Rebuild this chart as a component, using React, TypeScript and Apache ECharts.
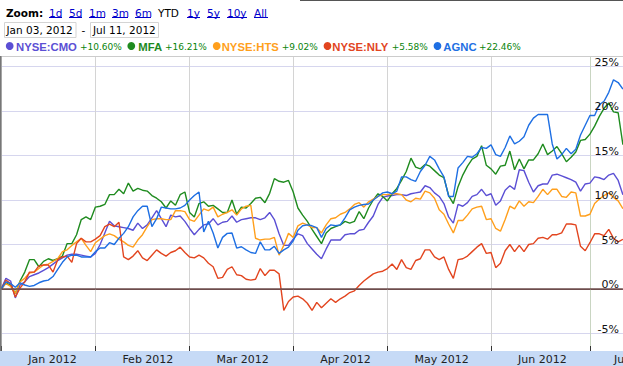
import { useEffect, useRef } from 'react';
import * as echarts from 'echarts';

// ---------- data ----------
const START_DATE = '2012-01-03';
const END_DATE = '2012-07-12';
const HOLIDAYS = ['2012-01-16', '2012-02-20', '2012-04-06', '2012-05-28', '2012-07-04'];
const MONTHS = ['Jan', 'Feb', 'Mar', 'Apr', 'May', 'Jun', 'Jul', 'Aug', 'Sep', 'Oct', 'Nov', 'Dec'];
const RANGE_LABELS = ['Jan 03, 2012', 'Jul 11, 2012'];
const ZOOM_LINKS = ['1d', '5d', '1m', '3m', '6m', 'YTD', '1y', '5y', '10y', 'All'];
const ACTIVE_ZOOM = 'YTD';
const Y_MIN = -5;
const Y_MAX = 25;
const Y_STEP = 5;

const NAMES = ['NYSE:CMO', 'MFA', 'NYSE:HTS', 'NYSE:NLY', 'AGNC'];
const COLORS = ['#5b4fd4', '#1f8b1f', '#ff9f1c', '#e2451f', '#1e6fe3'];

// percent change since Jan 03, 2012, one value per trading day
const CMO = [
  0, 1.2, 0.9, -1.0, 0.45, 0.8, 1.4, 1.6, 1.8, 2.1, 2.4, 2.8, 3.2, 3.5, 3.8, 3.9, 3.9, 3.8, 3.7, 3.6,
  4.0, 5.0, 6.3, 7.6, 7.1, 7.0, 6.9, 6.8, 6.6, 7.4, 6.8, 7.2, 8.0, 8.8, 7.9, 7.0, 8.3, 8.1, 8.2, 7.6,
  6.8, 6.1, 6.7, 7.2, 7.3, 7.9, 7.2, 7.5, 7.6, 8.2, 7.5, 7.8, 7.9, 8.0, 8.0, 7.8, 8.0, 8.6, 7.8, 6.2,
  4.9, 4.9, 5.6, 6.2, 6.0, 5.1, 4.5, 3.9, 3.4, 4.5, 5.5, 5.5, 5.5, 6.1, 6.2, 6.2, 6.6, 6.7, 7.5, 8.2,
  9.5, 10.3, 10.45, 10.5, 10.6, 10.6, 10.5, 10.7, 10.8, 10.9, 11.6, 11.4, 10.8, 10.4, 9.6, 8.1, 7.4, 9.5, 9.3, 9.7,
  10.4, 10.6, 11.2, 10.5, 10.7, 9.4, 9.9, 11.1, 11.6, 11.2, 13.4, 13.3, 12.0, 10.9, 11.6, 11.8, 11.8, 12.8, 12.9, 12.7,
  12.5, 12.3, 12.0, 11.0, 11.8, 11.9, 12.6, 12.5, 12.3, 12.8, 13.0, 12.2, 10.6,
];
const MFA = [
  0, 0.7, 0.4, -0.5, 0.9, 1.9, 3.3, 3.3, 2.5, 3.1, 3.4, 3.2, 3.4, 3.7, 5.1, 5.1, 6.1, 7.8, 8.1, 7.8,
  9.2, 9.3, 9.5, 10.6, 10.6, 11.2, 10.7, 11.9, 11.0, 11.3, 11.1, 11.0, 10.5, 10.2, 9.8, 9.1, 9.9, 9.4, 10.6, 10.9,
  8.6, 8.1, 9.6, 9.8, 9.3, 9.4, 9.0, 8.6, 8.6, 10.0, 8.4, 9.2, 9.1, 9.6, 10.2, 10.3, 9.7, 10.75, 12.4, 12.1,
  12.0, 12.2, 10.9, 9.1, 8.3, 7.6, 6.7, 5.9, 5.1, 6.3, 6.8, 7.0, 7.2, 7.6, 7.4, 7.6, 8.7, 7.9, 9.1, 10.0,
  10.7, 10.4, 9.9, 10.7, 11.3, 12.2, 13.2, 14.7, 13.7, 13.5, 14.0, 13.8, 13.3, 12.8, 12.5, 10.5, 9.6, 11.5, 12.8, 13.8,
  14.6, 14.9, 16.1, 13.9, 13.5, 12.9, 13.8, 13.9, 15.5, 13.4, 14.6, 13.5, 14.5, 14.5, 15.2, 16.3, 15.1, 15.5, 16.0, 15.2,
  14.3, 14.8, 15.4, 16.7, 16.8, 17.4, 18.3, 19.4, 20.3, 20.9, 19.9, 19.8, 16.21,
];
const HTS = [
  0, 0.6, 0.3, -0.5, 0.8, 1.2, 1.8, 1.9, 2.3, 2.7, 2.8, 3.1, 3.4, 4.2, 4.4, 4.9, 5.3, 5.7, 4.9, 4.2,
  5.2, 5.6, 6.0, 6.2, 6.0, 5.6, 5.3, 4.9, 4.7, 5.5, 6.1, 7.0, 7.8, 7.9, 7.9, 7.8, 7.8, 8.8, 8.8, 8.7,
  7.8, 7.6, 8.3, 9.0, 8.8, 9.2, 8.1, 8.4, 8.6, 8.9, 8.3, 9.0, 9.3, 9.4, 5.7, 5.5, 5.6, 5.6, 5.8, 3.8,
  4.9, 6.25, 5.8, 7.1, 7.4, 7.2, 6.9, 6.9, 6.3, 7.2, 7.9, 8.0, 8.4, 8.6, 9.0, 9.5, 9.7, 9.2, 9.8, 10.1,
  10.4, 10.6, 10.6, 10.7, 10.7, 10.6, 10.0, 9.8, 10.2, 10.1, 11.0, 10.8, 10.2, 8.9, 8.4, 7.3, 6.3, 7.7, 7.7, 8.3,
  9.0, 9.2, 9.3, 7.8, 7.9, 6.8, 6.5, 7.8, 9.3, 9.0, 9.9, 9.3, 9.8, 9.7, 10.4, 11.2, 10.6, 11.2, 11.2, 10.4,
  10.3, 10.9, 10.8, 8.2, 8.2, 8.4, 9.6, 10.1, 10.5, 10.8, 10.3, 9.9, 9.02,
];
const NLY = [
  0, 1.0, 0.6, -0.9, 0.1, 0.8, 1.9, 1.9, 2.6, 2.7, 2.7, 1.9, 3.3, 3.6, 3.7, 3.0, 5.1, 5.7, 5.3, 5.3,
  5.6, 6.0, 7.0, 7.3, 7.0, 7.5, 3.6, 3.3, 3.7, 4.3, 3.5, 3.2, 3.8, 4.4, 4.0, 3.7, 4.1, 4.3, 4.7, 4.1,
  3.6, 3.5, 3.8, 3.5, 2.9, 2.5, 1.2, 1.3, 2.2, 2.5, 1.6, 1.5, 1.1, 1.0, 1.1, 2.3, 1.5, 2.1, 2.1, 1.7,
  -2.4, -1.4, -0.9, -0.8, -1.1, -1.6, -2.4, -1.5, -2.1, -1.6, -1.1, -1.5, -1.1, -0.8, -0.4, -0.2, 0.4, 0.9, 1.3, 1.7,
  1.9, 2.0, 2.3, 2.8, 2.2, 3.3, 2.4, 2.2, 3.2, 3.4, 4.4, 4.4, 3.6, 3.3, 3.6, 2.2, 1.2, 3.3, 3.4, 3.7,
  4.2, 4.7, 5.1, 4.0, 4.1, 2.4, 2.9, 4.3, 5.0, 4.2, 4.9, 4.2, 5.0, 5.1, 5.7, 5.8, 5.6, 6.1, 6.1, 6.3,
  7.3, 7.3, 7.2, 4.8, 4.3, 5.2, 6.2, 6.2, 6.0, 6.7, 5.7, 5.3, 5.58,
];
const AGNC = [
  0, 0.8, 0.6, 0.2, 0.7, 0.45, 0.3, 0.4, 0.7, 0.9, 1.0, 1.4, 2.2, 3.0, 3.6, 3.8, 3.8, 3.6, 3.6, 3.6,
  4.2, 4.6, 4.6, 5.2, 5.0, 5.7, 6.25, 7.0, 8.1, 8.8, 9.3, 9.3, 7.0, 7.9, 9.2, 9.1, 9.0, 9.0, 9.1, 9.4,
  10.0, 10.5, 10.9, 6.4, 7.6, 6.3, 4.6, 5.8, 6.25, 6.3, 4.6, 4.75, 4.4, 4.1, 4.0, 5.3, 4.4, 4.4, 4.8, 4.0,
  4.4, 4.7, 5.4, 6.6, 7.1, 7.2, 7.1, 6.9, 5.8, 6.8, 7.2, 7.1, 7.2, 8.0, 8.9, 9.2, 9.4, 9.5, 9.55, 10.0,
  10.4, 10.8, 10.9, 10.7, 11.0, 12.6, 12.6, 12.3, 12.1, 13.2, 13.9, 14.9, 14.5, 13.5, 12.6, 10.4, 10.4, 13.6, 14.2, 14.9,
  14.8, 15.2, 15.9, 15.8, 16.2, 15.1, 14.9, 15.9, 17.2, 16.3, 16.6, 17.1, 18.4, 19.2, 19.6, 19.6, 19.6, 16.3, 14.6, 15.1,
  15.8, 15.2, 15.7, 17.3, 18.4, 19.5, 19.5, 20.7, 21.1, 22.1, 23.5, 23.2, 22.46,
];
const SERIES_VALUES = [CMO, MFA, HTS, NLY, AGNC];

// ---------- categories (trading days) ----------
function tradingDays(): string[] {
  const out: string[] = [];
  const d = new Date(START_DATE + 'T00:00:00Z');
  const end = new Date(END_DATE + 'T00:00:00Z').getTime();
  while (d.getTime() <= end) {
    const wd = d.getUTCDay();
    const s = d.toISOString().slice(0, 10);
    if (wd !== 0 && wd !== 6 && !HOLIDAYS.includes(s)) out.push(s);
    d.setUTCDate(d.getUTCDate() + 1);
  }
  return out;
}
const DATES = tradingDays();
const MONTH_STARTS = DATES.map((d, i) => (i === 0 || d.slice(5, 7) !== DATES[i - 1].slice(5, 7) ? i : -1)).filter((i) => i >= 0);
const START_SET = new Set(MONTH_STARTS);
const LAST_START_DATE = DATES[MONTH_STARTS[MONTH_STARTS.length - 1]];

const pct = (v: number) => (v >= 0 ? '+' : '') + v.toFixed(2) + '%';

function buildOption(): any {
  const isStart = (i: number) => START_SET.has(i);
  const ySplitColors: string[] = [];
  for (let v = Y_MIN; v <= Y_MAX; v += Y_STEP) ySplitColors.push(v === 0 ? '#6e4c4c' : '#d6d6ee');
  const xSplitColors = MONTH_STARTS.map((_, k) => (k === MONTH_STARTS.length - 1 ? '#c9d5c2' : '#d4d4d4'));

  const g: any[] = [];
  // axis band
  g.push({ type: 'rect', z: -1, silent: true, shape: { x: 0, y: 351, width: 623, height: 15 }, style: { fill: '#c6daf6' } });
  // frame lines
  g.push({ type: 'line', z: 10, silent: true, shape: { x1: 0, y1: 56.5, x2: 623, y2: 56.5 }, style: { stroke: '#cccccc', lineWidth: 1 } });
  g.push({ type: 'line', z: 10, silent: true, shape: { x1: 0.75, y1: 56, x2: 0.75, y2: 351 }, style: { stroke: '#777777', lineWidth: 1.5 } });
  g.push({ type: 'line', z: 10, silent: true, shape: { x1: 300, y1: 0.5, x2: 623, y2: 0.5 }, style: { stroke: '#555555', lineWidth: 1 } });

  // zoom toolbar
  g.push({ type: 'text', x: 6, y: 13, style: { text: 'Zoom:', fontFamily: 'DejaVu Sans', fontWeight: 'bold', fontSize: 10.5, fill: '#000', verticalAlign: 'middle' } });
  const zx = [49, 69, 89, 112, 135, 158, 187, 207, 227, 254];
  const zw = [13, 13, 16, 16, 16, 21, 13, 13, 20, 14];
  ZOOM_LINKS.forEach((t, k) => {
    const link = t !== ACTIVE_ZOOM;
    g.push({ type: 'text', x: zx[k], y: 13, style: { text: t, fontFamily: 'DejaVu Sans', fontSize: 10.5, fill: link ? '#0000cc' : '#000', verticalAlign: 'middle' } });
    if (link) g.push({ type: 'line', silent: true, shape: { x1: zx[k], y1: 17.5, x2: zx[k] + zw[k], y2: 17.5 }, style: { stroke: '#0000cc', lineWidth: 1 } });
  });

  // date range boxes
  g.push({ type: 'rect', shape: { x: 4.5, y: 22.5, width: 71.5, height: 15 }, style: { fill: '#fff', stroke: '#d4d4d4', lineWidth: 1 } });
  g.push({ type: 'text', x: 6.5, y: 30, style: { text: RANGE_LABELS[0], fontFamily: 'DejaVu Sans', fontSize: 10.5, fill: '#000', verticalAlign: 'middle' } });
  g.push({ type: 'text', x: 81.5, y: 29.5, style: { text: '-', fontFamily: 'DejaVu Sans', fontSize: 10.5, fill: '#000', verticalAlign: 'middle' } });
  g.push({ type: 'rect', shape: { x: 90.5, y: 22.5, width: 68, height: 15 }, style: { fill: '#fff', stroke: '#d4d4d4', lineWidth: 1 } });
  g.push({ type: 'text', x: 93, y: 30, style: { text: RANGE_LABELS[1], fontFamily: 'DejaVu Sans', fontSize: 10.5, fill: '#000', verticalAlign: 'middle' } });

  // legend
  const cx = [9.7, 131.3, 216.7, 327.5, 437.5];
  const lx = [16, 138.3, 221.7, 332.3, 443.3];
  const px = [80, 165, 281.7, 391.7, 479];
  NAMES.forEach((n, k) => {
    const vals = SERIES_VALUES[k];
    g.push({ type: 'circle', shape: { cx: cx[k], cy: 46, r: 3.9 }, style: { fill: COLORS[k] } });
    g.push({ type: 'text', x: lx[k], y: 46.5, style: { text: n, fontFamily: 'Liberation Sans', fontWeight: 'bold', fontSize: 11.3, fill: COLORS[k], verticalAlign: 'middle' } });
    g.push({ type: 'text', x: px[k], y: 47, style: { text: pct(vals[vals.length - 1]), fontFamily: 'DejaVu Sans', fontSize: 9, fill: '#0a840a', verticalAlign: 'middle' } });
  });

  const labelStyle = { fontFamily: 'DejaVu Sans', fontSize: 11, color: '#222', lineHeight: 12 };

  return {
    animation: false,
    backgroundColor: '#ffffff',
    textStyle: { fontFamily: 'DejaVu Sans' },
    grid: [
      { left: 1.2, right: 0.1, top: 66.5, bottom: 32.5, containLabel: false, outerBoundsMode: 'none' },
      { left: 1.2, right: 0.1, top: 56, bottom: 15, containLabel: false, outerBoundsMode: 'none' },
    ],
    xAxis: [
      { type: 'category', gridIndex: 0, data: DATES, boundaryGap: false, show: false },
      {
        type: 'category', gridIndex: 1, data: DATES, boundaryGap: false,
        axisLine: { show: false },
        axisTick: { show: true, inside: true, length: 5, interval: isStart, lineStyle: { color: '#333', width: 1 } },
        splitLine: { show: true, interval: isStart, lineStyle: { color: xSplitColors, width: 1 } },
        axisLabel: {
          show: true, interval: isStart, align: 'left', margin: 2, hideOverlap: false,
          formatter: (value: string) => {
            const label = MONTHS[Number(value.slice(5, 7)) - 1] + ' ' + value.slice(0, 4);
            return value === LAST_START_DATE ? `{e|${label}}` : `{m|${label}}`;
          },
          rich: {
            m: { ...labelStyle, padding: [0, 0, 0, 27] },
            e: { ...labelStyle, padding: [0, 0, 0, 24] },
          },
        },
      },
    ],
    yAxis: [
      {
        type: 'value', gridIndex: 0, min: Y_MIN, max: Y_MAX, interval: Y_STEP, position: 'right',
        axisLine: { show: false }, axisTick: { show: false }, axisLabel: { show: false },
        splitLine: { show: true, lineStyle: { color: ySplitColors, width: 1 } },
      },
      {
        type: 'value', gridIndex: 0, min: Y_MIN, max: Y_MAX, interval: Y_STEP, position: 'right', z: 10,
        axisLine: { show: false }, axisTick: { show: false }, splitLine: { show: false },
        axisLabel: {
          inside: true, margin: 4, formatter: '{value}%', fontFamily: 'DejaVu Sans', fontSize: 11,
          color: '#111', verticalAlign: 'bottom', lineHeight: 9,
        },
      },
      { type: 'value', gridIndex: 1, min: 0, max: 1, show: false },
    ],
    series: SERIES_VALUES.map((vals, k) => ({
      name: NAMES[k], type: 'line', xAxisIndex: 0, yAxisIndex: 0, data: vals,
      showSymbol: false, symbol: 'none', silent: true,
      lineStyle: { color: COLORS[k], width: 1.4 }, itemStyle: { color: COLORS[k] },
      markLine: k === 0 ? {
        silent: true, symbol: 'none', label: { show: false },
        lineStyle: { color: '#6e4c4c', width: 1.5, type: 'solid' },
        data: [{ yAxis: 0 }],
      } : undefined,
    })),
    graphic: { elements: g },
  };
}

export default function App() {
  const ref = useRef<HTMLDivElement>(null);
  useEffect(() => {
    if (!ref.current) return;
    const chart = echarts.init(ref.current, null, { renderer: 'svg' });
    chart.setOption(buildOption());
    return () => chart.dispose();
  }, []);
  return <div ref={ref} style={{ position: 'fixed', left: 0, top: 0, width: 623, height: 366 }} />;
}
